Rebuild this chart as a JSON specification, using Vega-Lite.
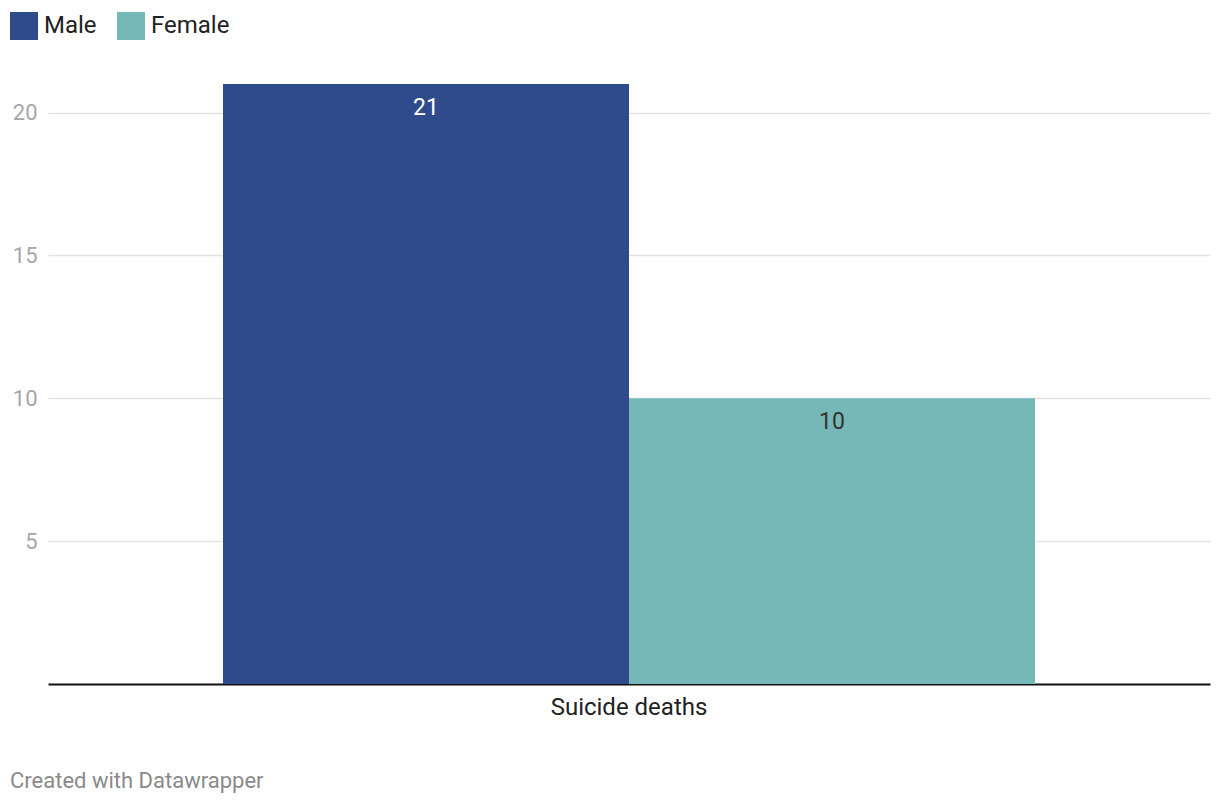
{
  "$schema": "https://vega.github.io/schema/vega-lite/v6.json",
  "autosize": "none",
  "width": 1162,
  "height": 600,
  "padding": {"left": 48, "top": 84, "right": 10, "bottom": 122},
  "background": "white",
  "config": {
    "font": "Roboto",
    "view": {"stroke": null}
  },
  "title": {
    "text": "Created with Datawrapper",
    "orient": "bottom",
    "anchor": "start",
    "frame": "group",
    "font": "Roboto",
    "fontSize": 22,
    "fontWeight": "normal",
    "color": "#8a8a8a",
    "dx": -38,
    "offset": 52
  },
  "data": {
    "values": [
      {"category": "Suicide deaths", "sex": "Male", "value": 21},
      {"category": "Suicide deaths", "sex": "Female", "value": 10}
    ]
  },
  "encoding": {
    "x": {
      "field": "category",
      "type": "nominal",
      "scale": {"paddingInner": 0, "paddingOuter": 0.2155},
      "axis": {
        "title": null,
        "labelAngle": 0,
        "labelFontSize": 24,
        "labelColor": "#222222",
        "labelPadding": 11,
        "ticks": false,
        "domainColor": "#111111",
        "domainWidth": 2,
        "grid": false
      }
    },
    "xOffset": {"field": "sex", "type": "nominal", "sort": ["Male", "Female"], "scale": {"paddingInner": 0, "paddingOuter": 0}},
    "y": {
      "field": "value",
      "type": "quantitative",
      "scale": {"domain": [0, 21], "nice": false},
      "axis": {
        "title": null,
        "values": [5, 10, 15, 20],
        "domain": false,
        "ticks": false,
        "labelFontSize": 22,
        "labelColor": "#a6a6a6",
        "labelPadding": 11,
        "gridColor": "#e3e3e3",
        "gridWidth": 1.5
      }
    }
  },
  "layer": [
    {
      "mark": {"type": "bar"},
      "encoding": {
        "color": {
          "field": "sex",
          "type": "nominal",
          "scale": {"domain": ["Male", "Female"], "range": ["#304b8c", "#76b8b7"]},
          "legend": {
            "title": null,
            "orient": "none",
            "legendX": -38,
            "legendY": -72,
            "direction": "horizontal",
            "symbolType": "square",
            "symbolSize": 784,
            "symbolStrokeWidth": 0,
            "labelFontSize": 24,
            "labelColor": "#222222",
            "labelOffset": 6,
            "columnPadding": 20
          }
        }
      }
    },
    {
      "mark": {"type": "text", "baseline": "middle", "align": "center", "dy": 24, "fontSize": 23, "font": "Roboto"},
      "encoding": {
        "text": {"field": "value", "type": "quantitative"},
        "color": {
          "condition": {"test": "datum.sex === 'Male'", "value": "#ffffff"},
          "value": "#333333"
        }
      }
    }
  ]
}
